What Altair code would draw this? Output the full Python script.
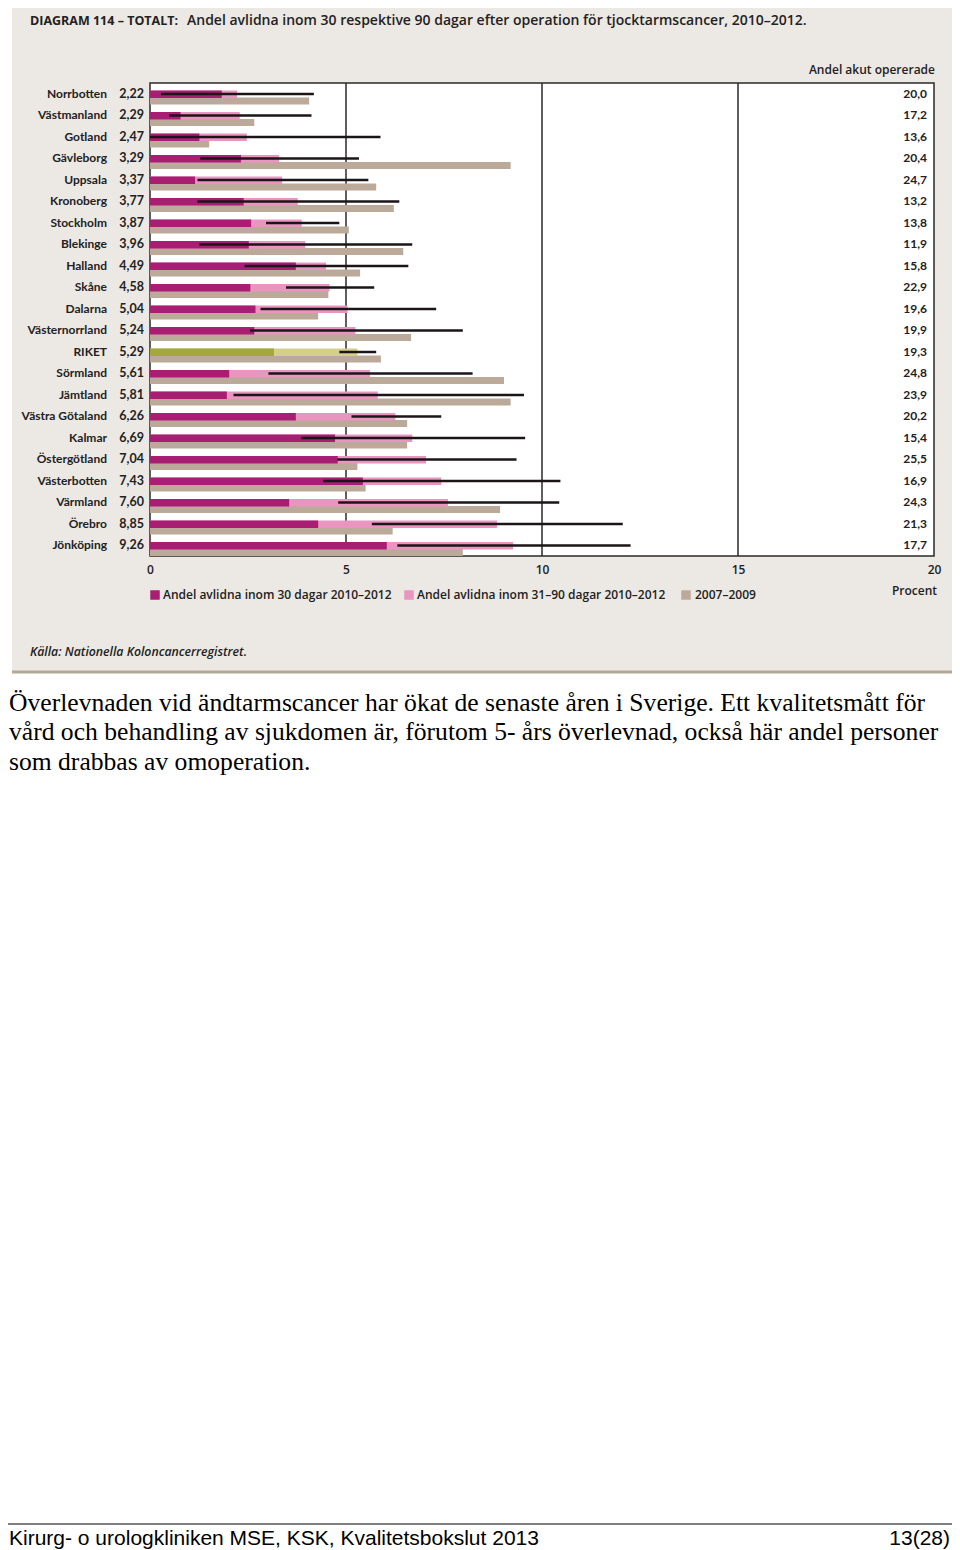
import altair as alt
import pandas as pd

regions = ["Norrbotten", "Västmanland", "Gotland", "Gävleborg", "Uppsala", "Kronoberg",
           "Stockholm", "Blekinge", "Halland", "Skåne", "Dalarna", "Västernorrland", "RIKET",
           "Sörmland", "Jämtland", "Västra Götaland", "Kalmar", "Östergötland", "Västerbotten",
           "Värmland", "Örebro", "Jönköping"]
within90 = [2.22, 2.29, 2.47, 3.29, 3.37, 3.77, 3.87, 3.96, 4.49, 4.58, 5.04, 5.24, 5.29,
            5.61, 5.81, 6.26, 6.69, 7.04, 7.43, 7.60, 8.85, 9.26]
within30 = [1.83, 0.78, 1.26, 2.32, 1.15, 2.39, 2.58, 2.52, 3.72, 2.56, 2.69, 2.66, 3.16,
            2.02, 1.96, 3.72, 4.72, 4.79, 5.43, 3.55, 4.29, 6.04]
ci_low = [0.28, 0.49, 0.0, 1.28, 1.21, 1.21, 2.96, 1.26, 2.41, 3.47, 2.82, 2.55, 4.83,
          3.02, 2.13, 5.14, 3.86, 4.78, 4.42, 4.80, 5.66, 6.31]
ci_high = [4.18, 4.12, 5.88, 5.33, 5.57, 6.36, 4.83, 6.69, 6.59, 5.72, 7.30, 7.98, 5.77,
           8.23, 9.54, 7.43, 9.57, 9.35, 10.47, 10.44, 12.06, 12.26]
prev0709 = [4.06, 2.66, 1.51, 9.20, 5.77, 6.22, 5.07, 6.46, 5.36, 4.55, 4.29, 6.66, 5.89,
            9.03, 9.20, 6.56, 6.56, 5.29, 5.50, 8.93, 6.19, 7.98]
acute = [20.0, 17.2, 13.6, 20.4, 24.7, 13.2, 13.8, 11.9, 15.8, 22.9, 19.6, 19.9, 19.3,
         24.8, 23.9, 20.2, 15.4, 25.5, 16.9, 24.3, 21.3, 17.7]
x_ticks = [0, 5, 10, 15, 20]
grid_vals = [5, 10, 15]

title_caps = "DIAGRAM 114 – TOTALT:"
title_rest = "Andel avlidna inom 30 respektive 90 dagar efter operation för tjocktarmscancer, 2010–2012."
legend_labels = ["Andel avlidna inom 30 dagar 2010–2012", "Andel avlidna inom 31–90 dagar 2010–2012", "2007–2009"]
source = "Källa: Nationella Koloncancerregistret."
paragraph = ["Överlevnaden vid ändtarmscancer har ökat de senaste åren i Sverige. Ett kvalitetsmått för",
             "vård och behandling av sjukdomen är, förutom 5- års överlevnad, också här andel personer",
             "som drabbas av omoperation."]
footer_left = "Kirurg- o urologkliniken MSE, KSK, Kvalitetsbokslut 2013"
footer_right = "13(28)"

df = pd.DataFrame({
    "region": regions, "v90": within90, "v30": within30, "lo": ci_low, "hi": ci_high,
    "prev": prev0709, "acute": acute,
})
df["lbl90"] = [f"{v:.2f}".replace(".", ",") for v in within90]
df["lblacute"] = [f"{v:.1f}".replace(".", ",") for v in acute]

W, H = 784, 473
FONT = "Open Sans"
LBLFONT = "Lato"
MAG, PINK, TAN = "#A81E72", "#E895C0", "#BBA999"
OLIVE, LOLIVE = "#A4A83A", "#D4D08A"
BEIGE, BORDER, DARK = "#ECE8E3", "#B4A797", "#2A2A2A"

xscale = alt.Scale(domain=[0, 20], nice=False, zero=True)
xaxis = alt.Axis(values=x_ticks, grid=False, domain=False, ticks=False, labelFlush=False,
                 labelFont=FONT, labelFontSize=12, labelFontWeight=600, labelColor="#222",
                 labelPadding=8, title=None, zindex=1)
yenc = alt.Y("region:N", sort=regions, axis=None,
             scale=alt.Scale(paddingInner=0, paddingOuter=0))

one = pd.DataFrame({"k": [0]})
base = alt.Chart(df)


def txt(s, x, y, size=12, align="left", weight=600, font=FONT, color="#222", style="normal", baseline="alphabetic"):
    return alt.Chart(one).mark_text(text=s, align=align, baseline=baseline, fontSize=size,
                                    fontWeight=weight, font=font, color=color, fontStyle=style).encode(
        x=alt.value(x), y=alt.value(y))


panel = alt.Chart(one).mark_rect(color=BEIGE).encode(
    x=alt.value(-138), x2=alt.value(806), y=alt.value(-81), y2=alt.value(590))
border_top = alt.Chart(one).mark_rule(color=BORDER, strokeWidth=3).encode(
    x=alt.value(-138), x2=alt.value(806), y=alt.value(-79.5))
border_bot = alt.Chart(one).mark_rule(color=BORDER, strokeWidth=3).encode(
    x=alt.value(-138), x2=alt.value(806), y=alt.value(589))
plotbg = alt.Chart(one).mark_rect(fill="white", stroke=DARK, strokeWidth=1.5).encode(
    x=alt.value(0), x2=alt.value(W), y=alt.value(0), y2=alt.value(H))
grid = alt.Chart(pd.DataFrame({"g": grid_vals})).mark_rule(color=DARK, strokeWidth=1.5).encode(
    x=alt.X("g:Q", scale=xscale, axis=xaxis), y=alt.value(0), y2=alt.value(H))

prev_bar = base.mark_bar(height=7, yOffset=7.25, color=TAN).encode(
    x=alt.X("prev:Q", scale=xscale, axis=xaxis), y=yenc)
is_riket = alt.datum.region == "RIKET"
bar90 = base.mark_bar(height=7.5, yOffset=0.5).encode(
    x=alt.X("v90:Q", scale=xscale, axis=xaxis), y=yenc,
    color=alt.condition(is_riket, alt.value(LOLIVE), alt.value(PINK)))
bar30 = base.mark_bar(height=7.5, yOffset=0.5).encode(
    x=alt.X("v30:Q", scale=xscale, axis=xaxis), y=yenc,
    color=alt.condition(is_riket, alt.value(OLIVE), alt.value(MAG)))
ci = base.mark_bar(height=2.6, yOffset=0.3, color="#1C1517").encode(
    x=alt.X("lo:Q", scale=xscale, axis=xaxis), x2="hi:Q", y=yenc)

name_lbl = base.mark_text(align="right", baseline="middle", font=LBLFONT, fontSize=12,
                          fontWeight="bold", color="#222").encode(
    x=alt.value(-43), y=yenc, text="region:N")
val_lbl = base.mark_text(align="right", baseline="middle", font=LBLFONT, fontSize=12.5,
                         fontWeight="bold", color="#222").encode(
    x=alt.value(-6), y=yenc, text="lbl90:N")
acute_lbl = base.mark_text(align="right", baseline="middle", font=LBLFONT, fontSize=12,
                           fontWeight="bold", color="#222").encode(
    x=alt.value(777), y=yenc, text="lblacute:N")

texts = [
    txt(title_caps, -120, -58, size=12.5, weight=700),
    txt(title_rest, 37, -58, size=14, weight=600),
    txt("Andel akut opererade", 785, -9, size=12, align="right"),
    txt("Procent", 787, 512, size=12, align="right"),
    txt(legend_labels[0], 13, 516, size=12, weight=600),
    txt(legend_labels[1], 267, 516, size=12, weight=600),
    txt(legend_labels[2], 545, 516, size=12, weight=600),
    txt(source, -120, 573, size=12.3, weight=600, style="italic"),
]

legend_sq = [
    alt.Chart(one).mark_square(size=90, color=c, opacity=1).encode(x=alt.value(xv), y=alt.value(512))
    for c, xv in [(MAG, 5), (PINK, 259), (TAN, 536)]
]

para = [txt(line, -141, 628 + i * 29.3, size=25.6, weight=400, font="Liberation Serif", color="#000")
        for i, line in enumerate(paragraph)]
footer_line = alt.Chart(one).mark_rule(color="#000", strokeWidth=1).encode(
    x=alt.value(-142), x2=alt.value(805), y=alt.value(1441))
footer = [
    txt(footer_left, -141, 1462, size=21, weight=400, font="Liberation Sans Narrow, Liberation Sans", color="#000"),
    txt(footer_right, 800, 1462, size=21, weight=400, font="Liberation Sans Narrow, Liberation Sans", color="#000", align="right"),
]

chart = alt.layer(
    panel, border_top, border_bot, plotbg, grid, prev_bar, bar90, bar30, ci,
    name_lbl, val_lbl, acute_lbl, *texts, *legend_sq, *para, footer_line, *footer
).properties(
    width=W, height=H,
    autosize=alt.AutoSizeParams(type="none"),
    padding={"left": 142, "top": 75, "right": 18, "bottom": 994},
    background="white",
).configure_view(stroke=None)

chart.save("out.html", embed_options={"renderer": "svg", "actions": False})
